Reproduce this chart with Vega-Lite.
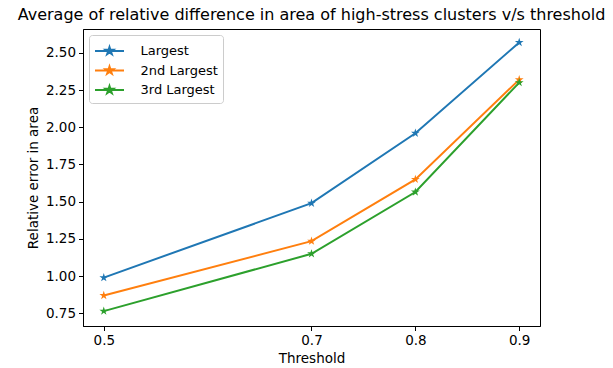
{
  "$schema": "https://vega.github.io/schema/vega-lite/v6.json",
  "width": 457,
  "height": 297,
  "autosize": {"type": "none"},
  "padding": {"left": 83, "top": 29, "right": 73, "bottom": 42},
  "title": {
    "text": "Average of relative difference in area of high-stress clusters v/s threshold",
    "font": "DejaVu Sans",
    "fontSize": 16,
    "fontWeight": "normal",
    "color": "black",
    "anchor": "middle",
    "offset": 6
  },
  "config": {
    "font": "DejaVu Sans",
    "view": {"stroke": "black", "strokeWidth": 1},
    "axis": {
      "grid": false,
      "domainColor": "black",
      "tickColor": "black",
      "tickSize": 4.5,
      "labelFont": "DejaVu Sans",
      "labelFontSize": 13.5,
      "labelColor": "black",
      "labelPadding": 3,
      "titleFont": "DejaVu Sans",
      "titleFontSize": 13.5,
      "titleFontWeight": "normal",
      "titleColor": "black"
    }
  },
  "data": {
    "values": [
      {"threshold": 0.5, "series": "Largest", "value": 0.99},
      {"threshold": 0.7, "series": "Largest", "value": 1.49},
      {"threshold": 0.8, "series": "Largest", "value": 1.96},
      {"threshold": 0.9, "series": "Largest", "value": 2.57},
      {"threshold": 0.5, "series": "2nd Largest", "value": 0.87},
      {"threshold": 0.7, "series": "2nd Largest", "value": 1.235},
      {"threshold": 0.8, "series": "2nd Largest", "value": 1.65},
      {"threshold": 0.9, "series": "2nd Largest", "value": 2.32},
      {"threshold": 0.5, "series": "3rd Largest", "value": 0.765},
      {"threshold": 0.7, "series": "3rd Largest", "value": 1.15},
      {"threshold": 0.8, "series": "3rd Largest", "value": 1.565},
      {"threshold": 0.9, "series": "3rd Largest", "value": 2.3}
    ]
  },
  "encoding": {
    "x": {
      "field": "threshold",
      "type": "quantitative",
      "scale": {"domain": [0.48, 0.92], "nice": false, "zero": false},
      "axis": {"values": [0.5, 0.7, 0.8, 0.9], "format": ".1f", "title": "Threshold", "titlePadding": 4}
    },
    "y": {
      "field": "value",
      "type": "quantitative",
      "scale": {"domain": [0.665, 2.66], "nice": false, "zero": false},
      "axis": {"values": [0.75, 1.0, 1.25, 1.5, 1.75, 2.0, 2.25, 2.5], "format": ".2f", "title": "Relative error in area", "titlePadding": 5}
    },
    "color": {
      "field": "series",
      "type": "nominal",
      "scale": {"domain": ["Largest", "2nd Largest", "3rd Largest"], "range": ["#1f77b4", "#ff7f0e", "#2ca02c"]},
      "legend": {
        "title": null,
        "orient": "top-left",
        "offset": 6,
        "padding": 5,
        "strokeColor": "#cccccc",
        "fillColor": "white",
        "cornerRadius": 3,
        "labelFont": "DejaVu Sans",
        "labelFontSize": 13,
        "labelColor": "black",
        "labelOffset": 20,
        "rowPadding": 0.5,
        "symbolSize": 400,
        "symbolOffset": 4.5,
        "symbolStrokeWidth": 2,
        "symbolType": "M-1.45,0H1.45M0,-0.4L0.0898,-0.1236L0.3804,-0.1236L0.1453,0.0472L0.2352,0.3236L0,0.1528L-0.2352,0.3236L-0.1453,0.0472L-0.3804,-0.1236L-0.0898,-0.1236Z",
        "encode": {
          "symbols": {
            "update": {
              "fill": {"scale": "color", "field": "value"},
              "stroke": {"scale": "color", "field": "value"}
            }
          }
        }
      }
    }
  },
  "layer": [
    {"mark": {"type": "line", "strokeWidth": 2}},
    {
      "mark": {
        "type": "point",
        "shape": "M0,-1L0.2245,-0.309L0.951,-0.309L0.3633,0.118L0.588,0.809L0,0.382L-0.588,0.809L-0.3633,0.118L-0.951,-0.309L-0.2245,-0.309Z",
        "filled": true,
        "size": 85,
        "opacity": 1
      }
    }
  ]
}
